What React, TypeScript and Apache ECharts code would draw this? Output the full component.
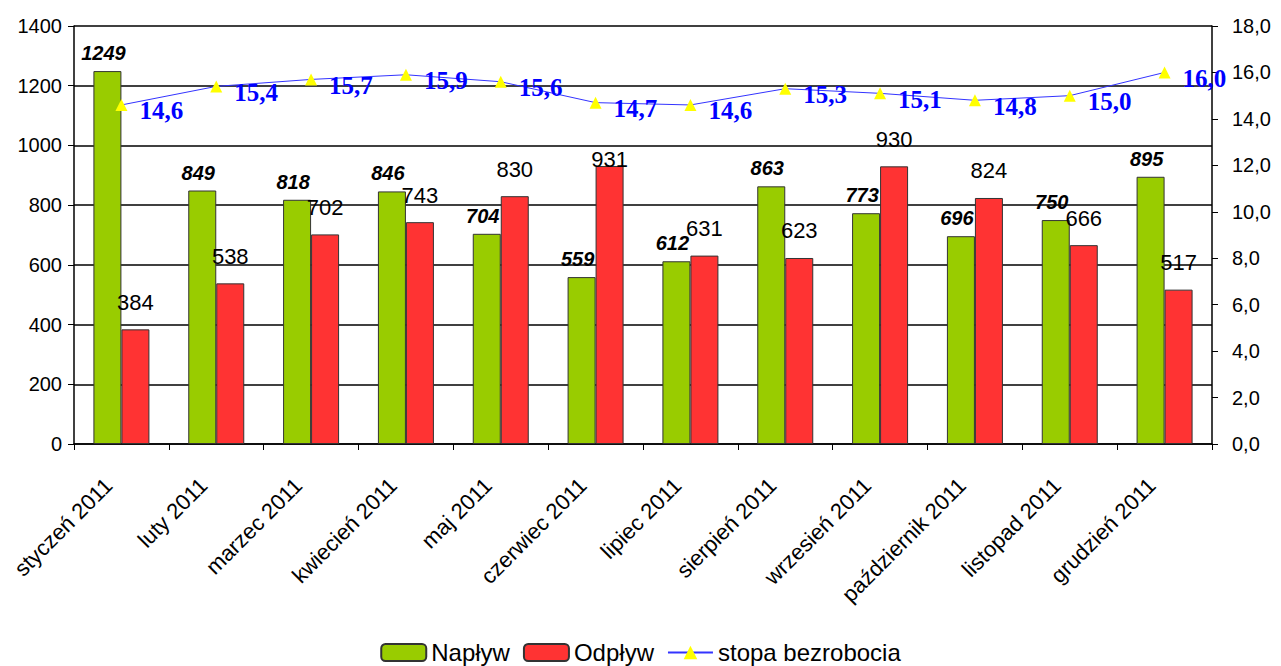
import React, { useEffect, useRef } from "react";
import * as echarts from "echarts";

const categories = [
  "styczeń 2011", "luty 2011", "marzec 2011", "kwiecień 2011", "maj 2011", "czerwiec 2011",
  "lipiec 2011", "sierpień 2011", "wrzesień 2011", "październik 2011", "listopad 2011", "grudzień 2011",
];
const naplyw = [1249, 849, 818, 846, 704, 559, 612, 863, 773, 696, 750, 895];
const odplyw = [384, 538, 702, 743, 830, 931, 631, 623, 930, 824, 666, 517];
const stopa = [14.6, 15.4, 15.7, 15.9, 15.6, 14.7, 14.6, 15.3, 15.1, 14.8, 15.0, 16.0];

const fmtComma = (v: number) => v.toFixed(1).replace(".", ",");
const SANS = "Liberation Sans, Arial, sans-serif";
const SERIF = "Liberation Serif, Times New Roman, serif";

export default function App() {
  const ref = useRef<HTMLDivElement>(null);
  useEffect(() => {
    if (!ref.current) return;
    const chart = echarts.init(ref.current, null, { renderer: "svg" });
    chart.setOption({
      animation: false,
      backgroundColor: "#ffffff",
      grid: { left: 74, right: 69, top: 26, bottom: 222, containLabel: false },
      legend: {
        bottom: 0,
        left: "center",
        itemWidth: 45,
        itemHeight: 17,
        itemGap: 13,
        padding: [2, 5, 1, 5],
        textStyle: { fontFamily: SANS, fontSize: 24, color: "#000", lineHeight: 25 },
        data: ["Napływ", "Odpływ", "stopa bezrobocia"],
      },
      xAxis: {
        type: "category",
        data: categories,
        boundaryGap: true,
        axisLine: { lineStyle: { color: "#000", width: 1.5 } },
        axisTick: { show: true, length: 6, lineStyle: { color: "#000" } },
        axisLabel: {
          rotate: 45,
          fontFamily: SANS,
          fontSize: 22,
          color: "#000",
          margin: 25,
          padding: [0, 18, 0, 0],
          interval: 0,
        },
      },
      yAxis: [
        {
          type: "value",
          min: 0,
          max: 1400,
          interval: 200,
          axisLine: { show: true, lineStyle: { color: "#000", width: 1.5 } },
          axisTick: { show: true, length: 6, lineStyle: { color: "#000" } },
          axisLabel: {
            fontFamily: SANS,
            fontSize: 20,
            color: "#000",
            margin: 12,
            formatter: (v: number) => String(v),
          },
          splitLine: { show: true, lineStyle: { color: "#000", width: 1.5 } },
        },
        {
          type: "value",
          min: 0,
          max: 18,
          interval: 2,
          position: "right",
          axisLine: { show: true, lineStyle: { color: "#000", width: 1.5 } },
          axisTick: { show: true, length: 6, lineStyle: { color: "#000" } },
          axisLabel: {
            fontFamily: SANS,
            fontSize: 20,
            color: "#000",
            margin: 20,
            formatter: (v: number) => fmtComma(v),
          },
          splitLine: { show: false },
        },
      ],
      series: [
        {
          name: "Napływ",
          type: "bar",
          data: naplyw,
          barWidth: 28,
          barGap: "0%",
          itemStyle: { color: "#99CC00", borderColor: "#333", borderWidth: 1 },
          label: {
            show: true,
            position: "top",
            distance: 8,
            fontFamily: SANS,
            fontSize: 20,
            fontStyle: "italic",
            fontWeight: "bold",
            color: "#000",
            offset: [-4, 0],
          },
        },
        {
          name: "Odpływ",
          type: "bar",
          data: odplyw.map((v, i) =>
            i === 5 ? { value: v, label: { offset: [0, 20] } } : v
          ),
          barWidth: 28,
          barGap: "0%",
          itemStyle: { color: "#FF3333", borderColor: "#333", borderWidth: 1 },
          label: {
            show: true,
            position: "top",
            distance: 16,
            fontFamily: SANS,
            fontSize: 22,
            color: "#000",
          },
        },
        {
          name: "stopa bezrobocia",
          type: "line",
          yAxisIndex: 1,
          data: stopa,
          symbol: "triangle",
          symbolSize: 12,
          lineStyle: { color: "#3333FF", width: 1 },
          itemStyle: { color: "#FFFF00" },
          label: {
            show: true,
            position: "right",
            distance: 12,
            offset: [0, 6],
            fontFamily: SERIF,
            fontSize: 25,
            fontWeight: "bold",
            color: "#0000FF",
            formatter: (p: any) => fmtComma(p.value),
          },
          z: 5,
        },
      ],
    });
    return () => chart.dispose();
  }, []);
  return <div ref={ref} style={{ width: 1281, height: 666, position: "absolute", left: 0, top: 0 }} />;
}
